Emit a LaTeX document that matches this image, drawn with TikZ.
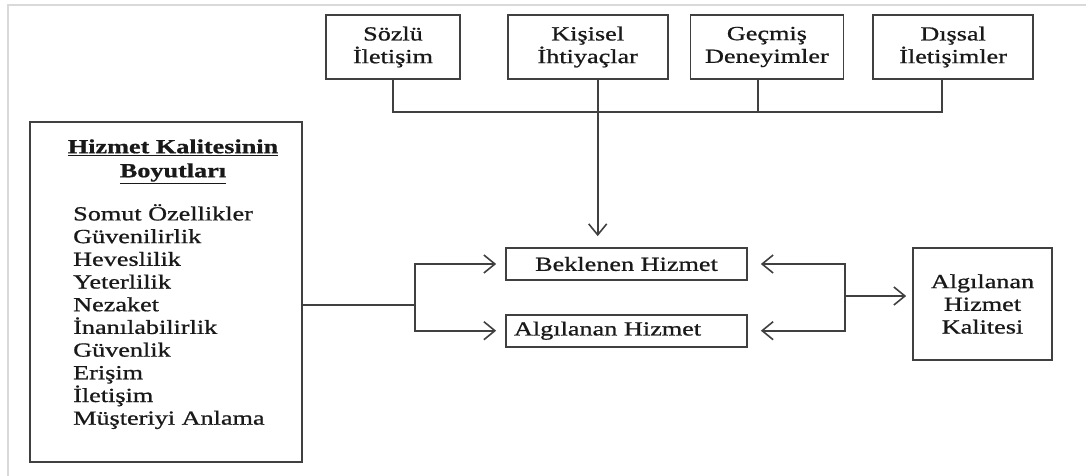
\documentclass[tikz,border=0pt]{standalone}
\usepackage{fontspec}
\setmainfont{Liberation Serif}[FakeStretch=1.31, FakeBold=0.9]
\usetikzlibrary{arrows.meta, positioning}

\begin{document}
\begin{tikzpicture}[
  x=1pt, y=-1pt,
  node distance=20pt,
  box/.style={draw=black!75, line width=1.7pt, inner sep=0pt, align=center, text=black!90, font=\fontsize{20}{22.7}\selectfont},
  txt/.style={inner sep=0pt, text=black!90, font=\fontsize{20}{22.7}\selectfont},
  conn/.style={draw=black!75, line width=1.6pt},
  arr/.style={conn, -{Straight Barb[length=11pt, width=18pt, line width=1.6pt]}}
]
  \useasboundingbox (0,0) rectangle (1086,476);
  \draw[black!15, line width=1.5pt] (8,476) -- (8,5) -- (1086,5);

  % top row
  \node[box, minimum width=134pt, minimum height=64pt] (sozlu) at (393,47) {Sözlü\\İletişim};
  \node[box, minimum width=160pt, minimum height=64pt, right=46pt of sozlu] (kisisel) {Kişisel\\İhtiyaçlar};
  \node[box, minimum width=153pt, minimum height=64pt, right=21pt of kisisel] (gecmis) {Geçmiş\\Deneyimler};
  \node[box, minimum width=160pt, minimum height=64pt, right=28pt of gecmis] (dissal) {Dışsal\\İletişimler};

  % middle
  \node[box, minimum width=241pt, minimum height=32pt] (bekl) at (626.5,264) {Beklenen Hizmet};
  \node[box, minimum width=241pt, minimum height=32pt, text width=225pt, align=left, below=33pt of bekl] (algh) {Algılanan Hizmet};
  \node[box, minimum width=139pt, minimum height=112pt] (aqual) at (982.5,304) {Algılanan\\Hizmet\\Kalitesi};

  % left box
  \node[box, minimum width=272pt, minimum height=340pt] (dims) at (166,292) {};
  \node[txt, font=\bfseries\fontsize{20}{24}\selectfont, align=center, below=18pt of dims.north, xshift=7pt] (dimhead) {\underline{Hizmet Kalitesinin}\\\underline{Boyutları}};
  \node[txt, align=left, anchor=north west] (dimlist) at (73,204) {Somut Özellikler\\Güvenilirlik\\Heveslilik\\Yeterlilik\\Nezaket\\İnanılabilirlik\\Güvenlik\\Erişim\\İletişim\\Müşteriyi Anlama};

  % connectors
  \coordinate (bus) at (0,112);
  \draw[conn] (sozlu.south) -- (sozlu.south |- bus) -- ([xshift=-11pt]dissal.south |- bus) -- ([xshift=-11pt]dissal.south);
  \draw[conn] ([xshift=-9pt]gecmis.south) -- ([xshift=-9pt]gecmis.south |- bus);
  \draw[arr, shorten >=11pt] ([xshift=10pt]kisisel.south) -- ([xshift=10pt]kisisel.south |- bekl.north);

  \coordinate (split) at (415,305);
  \draw[conn] ([yshift=-13pt]dims.east) -- (split);
  \draw[arr, shorten >=9pt] (split) |- (bekl.west);
  \draw[arr, shorten >=9pt] (split) |- (algh.west);

  \coordinate (merge) at (845,296);
  \draw[arr, shorten >=13pt] (merge) |- (bekl.east);
  \draw[arr, shorten >=13pt] (merge) |- (algh.east);
  \draw[arr, shorten >=6pt] (merge) -- (merge -| aqual.west);
\end{tikzpicture}
\end{document}
